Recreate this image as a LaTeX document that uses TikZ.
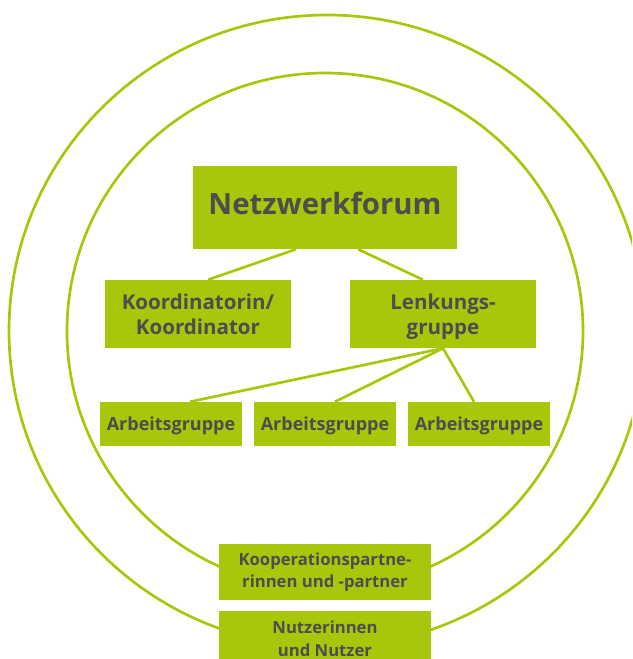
\documentclass[tikz,border=0pt]{standalone}
\usepackage{fontspec}
\setmainfont{Open Sans}
\usetikzlibrary{calc}
\definecolor{leaf}{HTML}{A8C70B}
\definecolor{ink}{HTML}{4D4D4F}
\tikzset{box/.style={rectangle,fill=leaf,text=ink,font=\bfseries,align=center,inner sep=0pt}}
\tikzset{ring/.style={draw=leaf,line width=2pt}}
\tikzset{link/.style={draw=leaf,line width=2pt}}

\begin{document}
\begin{tikzpicture}[x=0.75pt,y=-0.75pt]
    \useasboundingbox (0,0) rectangle (632,659);
    \clip (0,0) rectangle (632,659);

    % the two rings
    \draw[ring] (327,331) ellipse [x radius=318,y radius=316];
    \draw[ring] (325,331) circle [radius=258];

    \node[box,minimum width=264*0.75pt,minimum height=83*0.75pt,text depth=7pt,font=\bfseries\fontsize{22}{26}\selectfont] (forum) at (325,207.5) {Netzwerkforum};
    \node[box,minimum width=186*0.75pt,minimum height=68*0.75pt,text depth=0pt,font=\bfseries\fontsize{15.4}{18.75}\selectfont] (koord) at (198,314) {Koordinatorin/\\Koordinator};
    \node[box,minimum width=186*0.75pt,minimum height=68*0.75pt,text depth=0pt,font=\bfseries\fontsize{15.4}{18.75}\selectfont] (lenk) at (443,314) {Lenkungs-\\gruppe};

    \node[box,minimum width=142*0.75pt,minimum height=44*0.75pt,text depth=0pt,font=\bfseries\fontsize{13.5}{16}\selectfont] (ag1) at (171,424) {Arbeitsgruppe};
    \node[box,minimum width=142*0.75pt,minimum height=44*0.75pt,text depth=0pt,font=\bfseries\fontsize{13.5}{16}\selectfont] (ag2) at (325,424) {Arbeitsgruppe};
    \node[box,minimum width=142*0.75pt,minimum height=44*0.75pt,text depth=0pt,font=\bfseries\fontsize{13.5}{16}\selectfont] (ag3) at (479,424) {Arbeitsgruppe};

    \node[box,minimum width=212*0.75pt,minimum height=56*0.75pt,font=\bfseries\fontsize{12.5}{17}\selectfont] (koop) at (325,572) {Kooperationspartne-\\rinnen und -partner};
    \node[box,minimum width=212*0.75pt,minimum height=56*0.75pt,font=\bfseries\fontsize{12.5}{17}\selectfont] (nutz) at (325,639) {Nutzerinnen\\und Nutzer};

        \path[link] ($(forum.south west)!0.39!(forum.south east)$) -- ($(koord.north west)!0.554!(koord.north east)$);
        \path[link] ($(forum.south west)!0.625!(forum.south east)$) -- ($(lenk.north west)!0.392!(lenk.north east)$);
        \path[link] (lenk.south) -- ($(ag1.north west)!0.634!(ag1.north east)$);
        \path[link] (lenk.south) -- ($(ag2.north west)!0.57!(ag2.north east)$);
        \path[link] (lenk.south) -- ($(ag3.north west)!0.465!(ag3.north east)$);
\end{tikzpicture}
\end{document}
